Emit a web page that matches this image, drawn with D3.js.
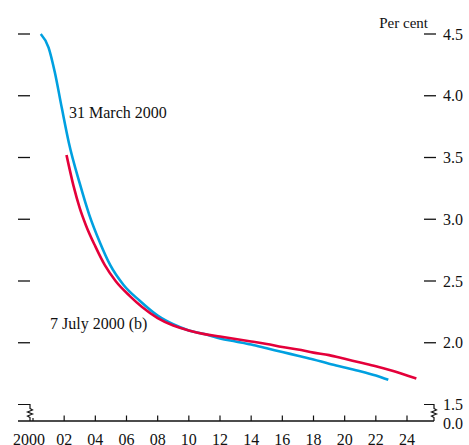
<!DOCTYPE html>
<html>
<head>
<meta charset="utf-8">
<script src="https://cdn.jsdelivr.net/npm/d3@7"></script>
<style>
  html, body { margin: 0; padding: 0; background: #fff; }
  svg { display: block; }
  text { font-family: "Liberation Serif", "Times New Roman", serif; fill: #111; }
</style>
</head>
<body>
<svg id="chart" width="469" height="445"></svg>
<script>
// Data: implied forward curves (per cent), years after 2000
const marchYears  = [2000.5, 2001.0, 2001.4, 2001.85, 2002.3, 2003.0, 2003.6, 2004.3, 2004.95, 2005.8, 2006.85, 2008.0, 2009.0, 2010.0, 2011.0, 2012.0, 2013.0, 2014.0, 2015.0, 2016.0, 2017.0, 2018.0, 2019.0, 2020.0, 2021.0, 2022.0, 2022.8];
const marchValues = [4.50, 4.39, 4.19, 3.90, 3.62, 3.29, 3.04, 2.81, 2.63, 2.47, 2.34, 2.22, 2.15, 2.10, 2.07, 2.035, 2.01, 1.985, 1.955, 1.925, 1.895, 1.865, 1.83, 1.80, 1.77, 1.735, 1.70];
const julyYears   = [2002.15, 2002.6, 2003.0, 2003.4, 2004.0, 2004.6, 2005.3, 2006.2, 2007.0, 2008.0, 2009.0, 2010.0, 2011.0, 2012.0, 2013.0, 2014.0, 2015.0, 2016.0, 2017.0, 2018.0, 2019.0, 2020.0, 2021.0, 2022.0, 2023.0, 2024.0, 2024.6];
const julyValues  = [3.52, 3.27, 3.09, 2.95, 2.78, 2.63, 2.50, 2.38, 2.29, 2.20, 2.14, 2.10, 2.07, 2.05, 2.03, 2.01, 1.99, 1.965, 1.945, 1.92, 1.90, 1.87, 1.84, 1.81, 1.775, 1.735, 1.71];
const xTickYears  = [2000, 2002, 2004, 2006, 2008, 2010, 2012, 2014, 2016, 2018, 2020, 2022, 2024];
const xTickLabels = ["2000", "02", "04", "06", "08", "10", "12", "14", "16", "18", "20", "22", "24"];
const yTickValues = [2.0, 2.5, 3.0, 3.5, 4.0, 4.5];
const yTickLabels = ["2.0", "2.5", "3.0", "3.5", "4.0", "4.5"];
const seriesColors = { march: "#00a0e0", july: "#e4003a" };

const svg = d3.select("#chart");
const x = d3.scaleLinear().domain([2000, 2024]).range([33, 407]);
const y = d3.scaleLinear().domain([1.5, 4.5]).range([404.5, 34]);
const axisY = 421;
const leftX = 18, rightX = 434;

// bottom axis line
svg.append("line").attr("x1", leftX).attr("x2", rightX).attr("y1", axisY).attr("y2", axisY)
  .attr("stroke", "#111").attr("stroke-width", 1.3);

// x ticks
svg.selectAll(".xt").data(xTickYears).enter().append("line")
  .attr("x1", d => x(d)).attr("x2", d => x(d))
  .attr("y1", axisY).attr("y2", (d, i) => i === 0 ? axisY - 3 : axisY - 5.5)
  .attr("stroke", "#111").attr("stroke-width", 1.2);
svg.selectAll(".xl").data(xTickYears).enter().append("text")
  .attr("x", (d, i) => i === 0 ? x(d) - 4 : x(d))
  .attr("y", 445).attr("text-anchor", "middle").attr("font-size", 16)
  .text((d, i) => xTickLabels[i]);

// y ticks left and right
svg.selectAll(".ylt").data(yTickValues).enter().append("line")
  .attr("x1", 18).attr("x2", 30).attr("y1", d => y(d)).attr("y2", d => y(d))
  .attr("stroke", "#111").attr("stroke-width", 1.3);
svg.selectAll(".yrt").data(yTickValues).enter().append("line")
  .attr("x1", 424).attr("x2", 436).attr("y1", d => y(d)).attr("y2", d => y(d))
  .attr("stroke", "#111").attr("stroke-width", 1.3);
svg.selectAll(".yl").data(yTickValues).enter().append("text")
  .attr("x", 443).attr("y", d => y(d) + 5.5).attr("font-size", 16)
  .text((d, i) => yTickLabels[i]);

// axis breaks
function breakPath(xh0, xv) {
  const y0 = y(1.5);
  return `M${xh0},${y0} L${xv},${y0} L${xv},${y0 + 4} L${xv + 2.5},${y0 + 5.5} L${xv - 2.5},${y0 + 7.5} L${xv + 2.5},${y0 + 9.5} L${xv - 2.5},${y0 + 11.5} L${xv},${y0 + 13} L${xv},${axisY}`;
}
svg.append("path").attr("d", breakPath(18, 30)).attr("fill", "none").attr("stroke", "#111").attr("stroke-width", 1.2);
svg.append("path").attr("d", breakPath(424, 434)).attr("fill", "none").attr("stroke", "#111").attr("stroke-width", 1.2);
svg.append("text").attr("x", 443).attr("y", y(1.5) + 5.5).attr("font-size", 16).text("1.5");
svg.append("text").attr("x", 443).attr("y", axisY + 8).attr("font-size", 16).text("0.0");

// unit label
svg.append("text").attr("x", 428).attr("y", 28).attr("text-anchor", "end").attr("font-size", 15).text("Per cent");

// lines
const line = d3.line().x(d => x(d[0])).y(d => y(d[1])).curve(d3.curveMonotoneX);
svg.append("path").datum(d3.zip(marchYears, marchValues)).attr("d", line)
  .attr("fill", "none").attr("stroke", seriesColors.march).attr("stroke-width", 2.6);
svg.append("path").datum(d3.zip(julyYears, julyValues)).attr("d", line)
  .attr("fill", "none").attr("stroke", seriesColors.july).attr("stroke-width", 2.6);

// annotations
svg.append("text").attr("x", 69).attr("y", 118).attr("font-size", 16).text("31 March 2000");
svg.append("text").attr("x", 50).attr("y", 329).attr("font-size", 16).text("7 July 2000 (b)");
</script>
</body>
</html>
